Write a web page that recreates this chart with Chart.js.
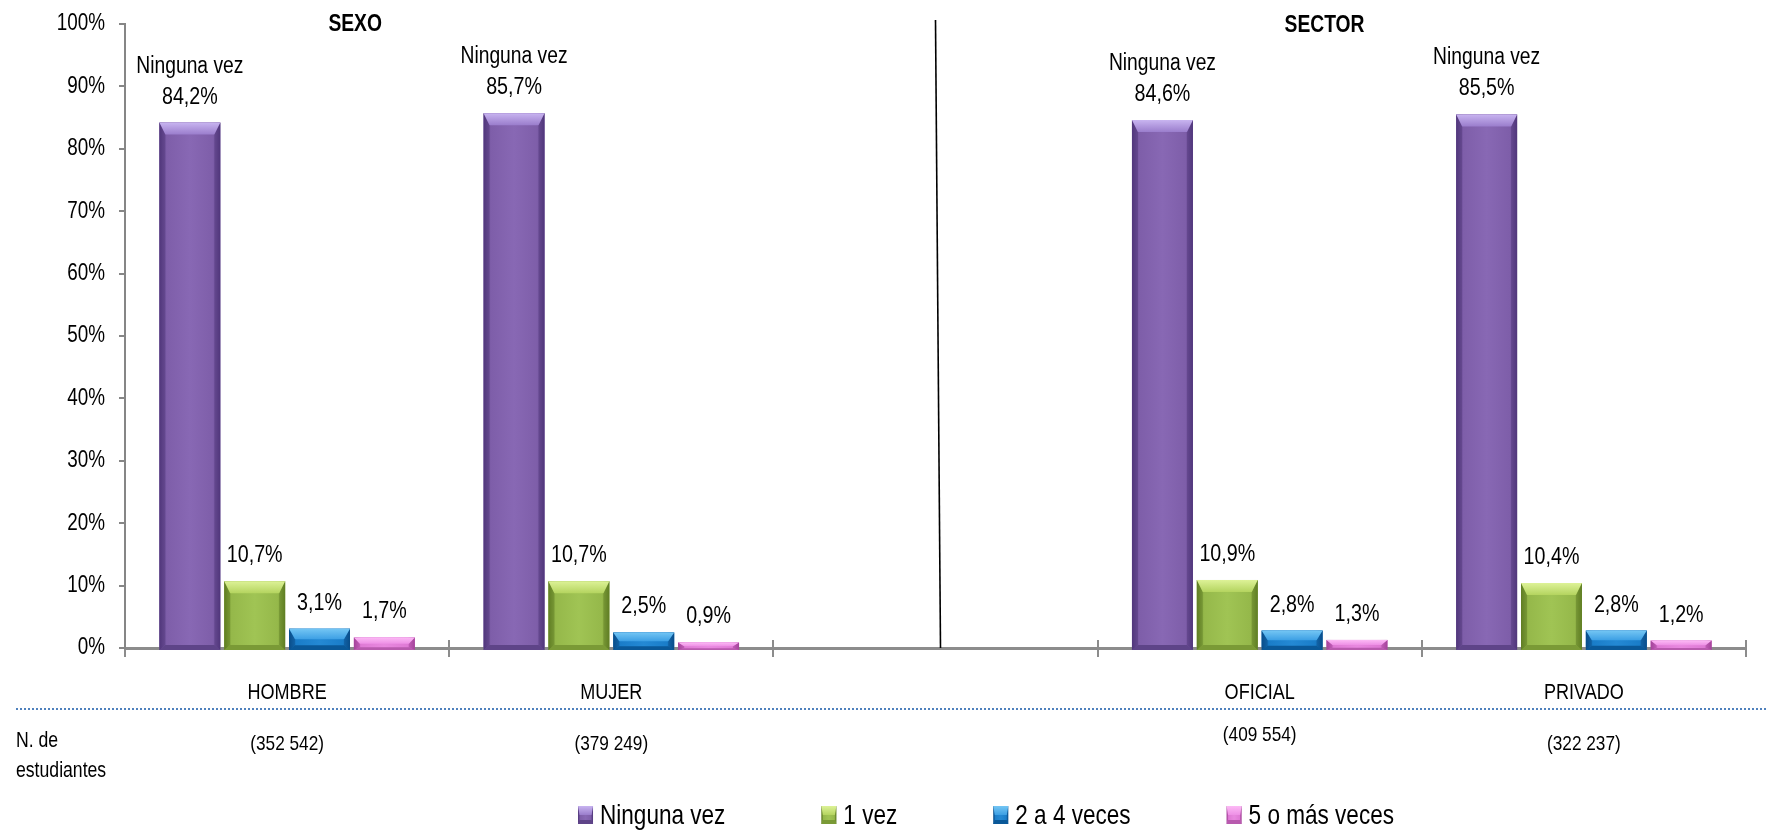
<!DOCTYPE html>
<html><head><meta charset="utf-8">
<script src="https://cdn.jsdelivr.net/npm/chart.js@4.4.1/dist/chart.umd.min.js"></script>
<style>html,body{margin:0;padding:0;background:#fff}#wrap{width:1766px;height:832px;position:relative}</style>
</head><body><div id="wrap"><canvas id="c" width="1766" height="832"></canvas></div>
<script>
// ---------- DATA ----------
const categories = ['HOMBRE', 'MUJER', '', 'OFICIAL', 'PRIVADO'];
const studentCounts = ['(352 542)', '(379 249)', '', '(409 554)', '(322 237)'];
const seriesNames = ['Ninguna vez', '1 vez', '2 a 4 veces', '5 o más veces'];
const ningunaVez = [84.2, 85.7, null, 84.6, 85.5];
const unaVez = [10.7, 10.7, null, 10.9, 10.4];
const dosACuatro = [3.1, 2.5, null, 2.8, 2.8];
const cincoOMas = [1.7, 0.9, null, 1.3, 1.2];
const yTicks = [0, 10, 20, 30, 40, 50, 60, 70, 80, 90, 100];
const groupTitles = ['SEXO', 'SECTOR'];
const rowLabel = ['N. de', 'estudiantes'];

// ---------- STYLE ----------
const palettes = [
  {body:'#7E5EA9', mid:'#8868B4', edge:'#5A3F86', side:'rgba(60,35,100,0.30)', bottom:'#5E4488', top1:'#C8B4F0', top2:'#9A7DCC'},
  {body:'#95B84A', mid:'#A0C454', edge:'#6B8B2B', side:'rgba(70,95,20,0.30)', bottom:'#7A9A36', top1:'#DDF297', top2:'#B4D45F'},
  {body:'#1A7DC9', mid:'#2489D4', edge:'#0B5696', side:'rgba(5,55,110,0.30)', bottom:'#0A5898', top1:'#74C6F4', top2:'#3C9FE4'},
  {body:'#DF7AD5', mid:'#E888DF', edge:'#B050A6', side:'rgba(140,40,130,0.30)', bottom:'#B85AAE', top1:'#FCBAF5', top2:'#EE90E6'}
];
const countYOffset = [0, 0, 0, -9, 0];

function hasFont(name){
  const c = document.createElement('canvas').getContext('2d');
  const s = 'mmmmmmmmmmlli WWW 0123456789 abcxyz';
  c.font = '40px monospace'; const a = c.measureText(s).width;
  c.font = '40px "' + name + '", monospace'; const b = c.measureText(s).width;
  c.font = '40px serif'; const a2 = c.measureText(s).width;
  c.font = '40px "' + name + '", serif'; const b2 = c.measureText(s).width;
  return a !== b && a2 !== b2;
}
const NARROW = hasFont('Liberation Sans Narrow');
const FAMILY = NARROW ? '"Liberation Sans Narrow", "Liberation Sans", sans-serif' : '"Liberation Sans", Arial, sans-serif';
const SX = NARROW ? 1 : 0.82;

function txt(ctx, s, x, y, size, o){
  o = o || {};
  ctx.save();
  ctx.fillStyle = o.color || '#000';
  ctx.textAlign = o.align || 'center';
  ctx.textBaseline = o.baseline || 'alphabetic';
  ctx.translate(x, y);
  ctx.scale(SX, 1);
  ctx.font = (o.bold ? 'bold ' : '') + size + 'px ' + FAMILY;
  ctx.fillText(s, 0, 0);
  ctx.restore();
}
function txtW(ctx, s, size, bold){
  ctx.save();
  ctx.font = (bold ? 'bold ' : '') + size + 'px ' + FAMILY;
  const w = ctx.measureText(s).width * SX;
  ctx.restore();
  return w;
}
function poly(ctx, pts, fill){
  ctx.beginPath(); ctx.moveTo(pts[0][0], pts[0][1]);
  for (let i = 1; i < pts.length; i++) ctx.lineTo(pts[i][0], pts[i][1]);
  ctx.closePath(); ctx.fillStyle = fill; ctx.fill();
}
function bevelRect(ctx, L, T, R, B, p){
  const w = R - L, h = B - T;
  if (w <= 0 || h <= 0) return;
  ctx.save();
  const g = ctx.createLinearGradient(L, 0, R, 0);
  g.addColorStop(0, p.edge); g.addColorStop(0.12, p.body); g.addColorStop(0.5, p.mid);
  g.addColorStop(0.88, p.body); g.addColorStop(1, p.edge);
  ctx.fillStyle = g; ctx.fillRect(L, T, w, h);
  const b = Math.min(6, w * 0.1);
  const th = Math.min(12, h * 0.5);
  const bh = Math.min(5, h * 0.22);
  poly(ctx, [[L,T],[L+b,T+th],[L+b,B-bh],[L,B]], p.side);
  poly(ctx, [[R,T],[R-b,T+th],[R-b,B-bh],[R,B]], p.side);
  poly(ctx, [[L,B],[R,B],[R-b,B-bh],[L+b,B-bh]], p.bottom);
  const tg = ctx.createLinearGradient(0, T, 0, T + th);
  tg.addColorStop(0, p.top1); tg.addColorStop(1, p.top2);
  poly(ctx, [[L,T],[R,T],[R-b,T+th],[L+b,T+th]], tg);
  ctx.restore();
}
const fmt = v => v.toFixed(1).replace('.', ',') + '%';

const seriesValues = [ningunaVez, unaVez, dosACuatro, cincoOMas];

const decorPlugin = {
  id: 'decor',
  afterDatasetsDraw(chart){
    const ctx = chart.ctx;
    chart.data.datasets.forEach((ds, i) => {
      const meta = chart.getDatasetMeta(i);
      meta.data.forEach((el, j) => {
        if (ds.data[j] == null) return;
        const L = el.x - el.width / 2, R = el.x + el.width / 2;
        bevelRect(ctx, L, el.y, R, el.base + 3, palettes[i]);
      });
    });
  },
  afterDraw(chart){
    const ctx = chart.ctx, xs = chart.scales.x, ys = chart.scales.y, ca = chart.chartArea;
    // y tick labels (from the y scale)
    ys.ticks.forEach(t => {
      txt(ctx, t.value + '%', ys.right - 20, ys.getPixelForValue(t.value), 23, {align:'right', baseline:'middle'});
    });
    // category labels (from the x scale)
    categories.forEach((c, j) => {
      if (!c) return;
      txt(ctx, c, xs.getPixelForValue(j), ca.bottom + 45, 22, {baseline:'middle'});
    });
    // data labels
    chart.data.datasets.forEach((ds, i) => {
      const meta = chart.getDatasetMeta(i);
      meta.data.forEach((el, j) => {
        const v = ds.data[j];
        if (v == null) return;
        txt(ctx, fmt(v), el.x, el.y - 19, 24);
        if (i === 0) txt(ctx, ds.label, el.x, el.y - 50, 23.5);
      });
    });
    // upward halves of the category ticks
    ctx.save();
    ctx.strokeStyle = '#8c8c8c'; ctx.lineWidth = 2;
    for (let k = 1; k <= categories.length; k++) {
      const px = Math.round(xs.getPixelForValue(k - 0.5));
      ctx.beginPath(); ctx.moveTo(px, ca.bottom - 8); ctx.lineTo(px, ca.bottom); ctx.stroke();
    }
    ctx.restore();
    // separator between groups
    const sx = xs.getPixelForValue(2);
    ctx.save();
    ctx.strokeStyle = '#000'; ctx.lineWidth = 1.6;
    ctx.beginPath(); ctx.moveTo(sx, ca.top - 4); ctx.lineTo(sx + 5, ca.bottom); ctx.stroke();
    ctx.restore();
    // group titles
    txt(ctx, groupTitles[0], xs.getPixelForValue(0.21), 31, 23.5, {bold:true});
    txt(ctx, groupTitles[1], xs.getPixelForValue(3.2), 32, 23.5, {bold:true});
    // dotted separator row
    ctx.save();
    ctx.strokeStyle = '#4F81BD'; ctx.lineWidth = 2; ctx.setLineDash([2, 2]);
    ctx.beginPath(); ctx.moveTo(16, ca.bottom + 61); ctx.lineTo(chart.width, ca.bottom + 61); ctx.stroke();
    ctx.restore();
    // N. de estudiantes
    txt(ctx, rowLabel[0], 16, ca.bottom + 99, 21.5, {align:'left'});
    txt(ctx, rowLabel[1], 16, ca.bottom + 129, 21.5, {align:'left'});
    studentCounts.forEach((s, j) => {
      if (!s) return;
      txt(ctx, s, xs.getPixelForValue(j), ca.bottom + 102 + countYOffset[j], 21);
    });
    // legend
    const lfs = 27.5, boxW = 15, boxH = 18, gapBT = 7, gapItem = 96;
    const widths = seriesNames.map(n => txtW(ctx, n, lfs));
    const total = widths.reduce((a, b) => a + b, 0) + seriesNames.length * (boxW + gapBT) + (seriesNames.length - 1) * gapItem;
    let lx = 986 - total / 2;
    const baseY = 824;
    seriesNames.forEach((n, i) => {
      bevelRect(ctx, lx, baseY - boxH, lx + boxW, baseY, palettes[i]);
      txt(ctx, n, lx + boxW + gapBT, baseY, lfs, {align:'left'});
      lx += boxW + gapBT + widths[i] + gapItem;
    });
  }
};

Chart.defaults.font.family = FAMILY;

new Chart(document.getElementById('c'), {
  type: 'bar',
  data: {
    labels: categories,
    datasets: seriesValues.map((vals, i) => ({
      label: seriesNames[i], data: vals, backgroundColor: palettes[i].body,
      borderWidth: 0, categoryPercentage: 0.8, barPercentage: 0.94
    }))
  },
  options: {
    responsive: false, animation: false, devicePixelRatio: 1,
    layout: {padding: {left: 0, right: 20, top: 24, bottom: 175}},
    plugins: {legend: {display: false}, tooltip: {enabled: false}},
    scales: {
      x: {
        z: 1, offset: true,
        grid: {offset: true, drawOnChartArea: false, drawTicks: true, tickLength: 9, color: '#8c8c8c', lineWidth: 2},
        border: {display: true, color: '#8c8c8c', width: 3},
        ticks: {display: false}
      },
      y: {
        min: 0, max: 100,
        afterFit(s){ s.width = 125; },
        afterBuildTicks(s){ s.ticks = yTicks.map(v => ({value: v})); },
        ticks: {display: false},
        grid: {drawOnChartArea: false, drawTicks: true, tickLength: 6, color: '#868686', lineWidth: 2},
        border: {display: true, color: '#868686', width: 2}
      }
    }
  },
  plugins: [decorPlugin]
});
</script></body></html>
